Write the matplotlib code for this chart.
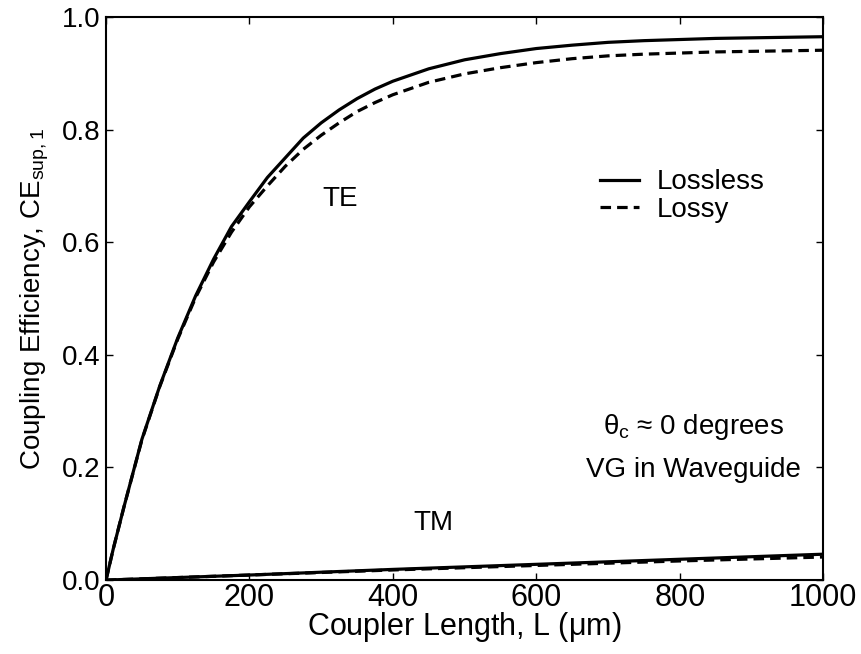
import numpy as np
import matplotlib
matplotlib.use("Agg")
import matplotlib.pyplot as plt

plt.rcParams['font.family'] = ['Liberation Sans', 'DejaVu Sans']
plt.rcParams['mathtext.fontset'] = 'custom'
plt.rcParams['mathtext.rm'] = 'Liberation Sans'
plt.rcParams['mathtext.it'] = 'Liberation Sans:italic'

# coupler length (um)
L_te = [0, 10, 25, 50, 75, 100, 125, 150, 175, 200, 225, 250, 275, 300,
        325, 350, 375, 400, 450, 500, 550, 600, 650, 700, 750, 800, 850,
        900, 950, 1000]
te_lossless = [0, 0.055, 0.13, 0.25, 0.345, 0.43, 0.505, 0.57, 0.628, 0.672,
               0.715, 0.75, 0.785, 0.812, 0.835, 0.855, 0.872, 0.886, 0.908,
               0.924, 0.935, 0.944, 0.950, 0.955, 0.958, 0.960, 0.962, 0.963,
               0.964, 0.965]
te_lossy = [0, 0.055, 0.13, 0.249, 0.344, 0.428, 0.502, 0.565, 0.618, 0.663,
            0.70, 0.735, 0.765, 0.79, 0.812, 0.832, 0.848, 0.862, 0.884,
            0.899, 0.91, 0.919, 0.926, 0.931, 0.934, 0.936, 0.938, 0.939,
            0.940, 0.941]

L_tm = [0, 200, 400, 600, 800, 1000]
tm_lossless = [0, 0.009, 0.019, 0.028, 0.037, 0.046]
tm_lossy = [0, 0.009, 0.018, 0.026, 0.034, 0.041]

fig = plt.figure(figsize=(8.62, 6.54), dpi=100)
ax = fig.add_axes([0.123, 0.113, 0.832, 0.861])

dash = (3.3, 1.9)
ax.plot(L_te, te_lossless, color='black', lw=2.3, label='Lossless')
ax.plot(L_te, te_lossy, color='black', lw=2.3, ls='--', dashes=dash, label='Lossy')
ax.plot(L_tm, tm_lossless, color='black', lw=2.3)
ax.plot(L_tm, tm_lossy, color='black', lw=2.3, ls='--', dashes=dash)

ax.set_xlim(0, 1000)
ax.set_ylim(0, 1.0)
ax.set_xticks([0, 200, 400, 600, 800, 1000])
ax.set_yticks([0, 0.2, 0.4, 0.6, 0.8, 1.0])
ax.set_yticklabels(['0.0', '0.2', '0.4', '0.6', '0.8', '1.0'])
ax.tick_params(direction='in', top=True, right=True, length=5, width=1, pad=4)
ax.tick_params(axis='x', labelsize=22, pad=2)
ax.tick_params(axis='y', labelsize=20)
for s in ax.spines.values():
    s.set_linewidth(1.5)

ax.set_xlabel(r'Coupler Length, L ($\mathrm{\mu}$m)', fontsize=22, labelpad=-2)
ax.set_ylabel(r'Coupling Efficiency, CE$_{\mathrm{sup,1}}$', fontsize=20, labelpad=8)

ax.text(327, 0.676, 'TE', fontsize=20, ha='center', va='center')
ax.text(457, 0.101, 'TM', fontsize=20, ha='center', va='center')
ax.text(819, 0.272, r'θ$_{\mathrm{c}}$ ≈ 0 degrees', fontsize=20, ha='center', va='center')
ax.text(819, 0.195, 'VG in Waveguide', fontsize=20, ha='center', va='center')

ax.legend(loc='upper left', bbox_to_anchor=(0.669, 0.754), frameon=False,
          fontsize=20, borderpad=0, handlelength=1.4, handletextpad=0.65,
          labelspacing=0.05)

fig.savefig('out.png', dpi=100)
